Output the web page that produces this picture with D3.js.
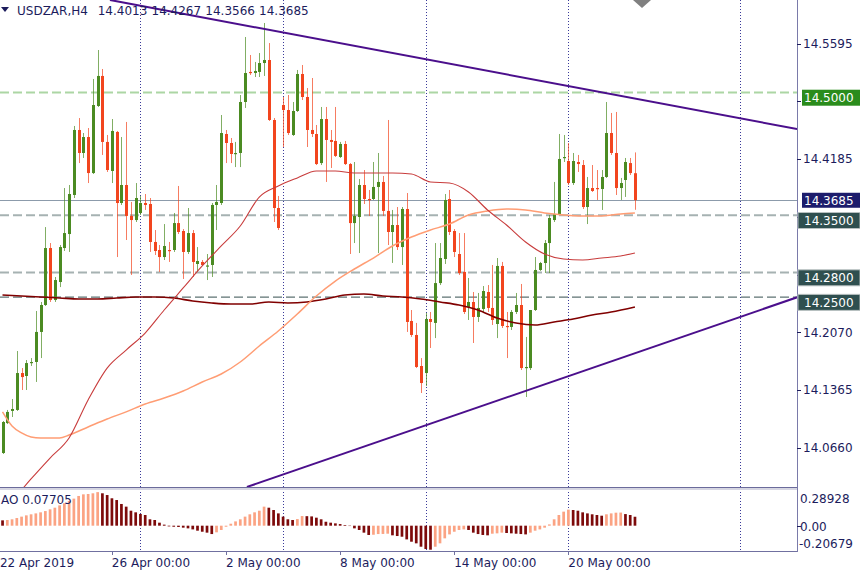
<!DOCTYPE html>
<html><head><meta charset="utf-8">
<script src="https://cdn.jsdelivr.net/npm/d3@7"></script>
<style>body{margin:0;background:#fff}svg{display:block;font-family:"DejaVu Sans",sans-serif;font-size:12px}</style>
</head><body><svg id="c" width="860" height="573"></svg>
<script>
// ---------- DATA ----------
const symbolName = "USDZAR,H4";
const titleValues = ["14.4013","14.4267","14.3566","14.3685"];
const opens = [14.0595,14.0961,14.1109,14.1121,14.1572,14.1536,14.1694,14.1707,14.2074,14.2403,
14.3099,14.2464,14.2684,14.3099,14.3270,14.3747,14.4541,14.4260,14.4455,14.4015,
14.4834,14.5201,14.4395,14.4040,14.4517,14.3649,14.3869,14.3491,14.3441,14.3527,
14.3649,14.3637,14.3173,14.3075,14.2989,14.3075,14.3075,14.3404,14.3307,14.3051,
14.3282,14.2904,14.2929,14.2880,14.2892,14.3625,14.3649,14.4492,14.4382,14.4248,
14.4260,14.4883,14.5250,14.5237,14.5250,14.5359,14.5396,14.4663,14.3588,14.4846,
14.4785,14.4480,14.4773,14.5225,14.4944,14.4541,14.4492,14.4137,14.4675,14.4419,
14.4407,14.4211,14.4370,14.4125,14.3404,14.3478,14.3869,14.3698,14.3698,14.3845,
14.3906,14.3552,14.3295,14.3380,14.3111,14.3576,14.2208,14.2037,14.1658,14.1572,
14.2232,14.2184,14.2671,14.2965,14.3698,14.3307,14.3026,14.2807,14.2379,14.2440,
14.2257,14.2355,14.2562,14.2367,14.2171,14.2880,14.2147,14.2135,14.2318,14.2403,
14.1633,14.1633,14.2342,14.2831,14.2916,14.3160,14.3441,14.3515,14.4199,14.4162,
14.3893,14.4150,14.4113,14.3600,14.3832,14.3832,14.3820,14.3967,14.4504,14.4260,
14.3832,14.3930,14.4137,14.4013];
const highs = [14.0986,14.1121,14.1255,14.1841,14.1633,14.1731,14.1755,14.2330,14.2440,14.3355,
14.3160,14.2745,14.3136,14.3832,14.3869,14.4590,14.4687,14.4504,14.4565,14.5164,
14.5518,14.5286,14.4480,14.4675,14.4529,14.4455,14.4639,14.3662,14.3893,14.3735,
14.3759,14.3710,14.3319,14.3136,14.3392,14.3173,14.3527,14.3857,14.3331,14.3588,
14.3319,14.3111,14.2953,14.3026,14.3649,14.3869,14.4724,14.4541,14.4443,14.4395,
14.4968,14.5677,14.5457,14.5372,14.5481,14.5848,14.5603,14.4687,14.3735,14.4944,
14.4968,14.4883,14.5274,14.5335,14.5054,14.5176,14.4602,14.4822,14.4822,14.4541,
14.4822,14.4395,14.4407,14.4137,14.4150,14.3942,14.4052,14.3808,14.4150,14.4260,
14.3979,14.4663,14.3564,14.3600,14.3600,14.3771,14.2342,14.2184,14.1755,14.2306,
14.2318,14.3160,14.3160,14.3759,14.3808,14.3331,14.3282,14.3282,14.2733,14.2562,
14.2550,14.2635,14.2647,14.2892,14.2977,14.2929,14.2318,14.2342,14.2550,14.2660,
14.2013,14.2342,14.2989,14.2929,14.3197,14.3503,14.3906,14.4492,14.4480,14.4382,
14.4260,14.4236,14.4174,14.3967,14.4113,14.4052,14.4052,14.4883,14.4749,14.4761,
14.3955,14.4199,14.4199,14.4267];
const lows = [14.0583,14.0949,14.1035,14.1109,14.1365,14.1365,14.1658,14.1463,14.1755,14.2391,
14.2440,14.2440,14.2622,14.3063,14.3051,14.3710,14.4137,14.4199,14.3893,14.4003,
14.4822,14.4236,14.4028,14.3893,14.2989,14.3625,14.3197,14.2770,14.3417,14.3503,
14.3564,14.3051,14.3014,14.2807,14.2953,14.2929,14.3051,14.3270,14.2721,14.3026,
14.2745,14.2807,14.2880,14.2708,14.2745,14.3319,14.3625,14.4137,14.4137,14.4088,
14.4088,14.4810,14.5213,14.5188,14.5188,14.5201,14.4651,14.3417,14.3319,14.4333,
14.4480,14.4468,14.4761,14.4907,14.4333,14.4455,14.4113,14.4113,14.3906,14.4077,
14.4211,14.4199,14.4113,14.3026,14.3160,14.3038,14.3637,14.3491,14.3686,14.3038,
14.3491,14.3136,14.2917,14.3075,14.2892,14.2074,14.2013,14.1633,14.1328,14.1414,
14.1878,14.1999,14.2647,14.2904,14.3258,14.2989,14.2770,14.2293,14.2220,14.1939,
14.2196,14.2306,14.2318,14.2159,14.1999,14.2122,14.1755,14.2098,14.2293,14.1609,
14.1279,14.1609,14.2330,14.2819,14.2794,14.2794,14.3417,14.3503,14.4150,14.3869,
14.3869,14.4028,14.3576,14.3392,14.3784,14.3686,14.3564,14.3955,14.4236,14.3747,
14.3686,14.3723,14.3991,14.3566];
const closes = [14.0974,14.1097,14.1133,14.1572,14.1523,14.1694,14.1707,14.2074,14.2403,14.3099,
14.2464,14.2708,14.3111,14.3282,14.3759,14.4541,14.4260,14.4455,14.4015,14.4846,
14.5201,14.4395,14.4052,14.4529,14.3649,14.3869,14.3491,14.3441,14.3710,14.3649,
14.3625,14.3173,14.3063,14.2989,14.3124,14.3063,14.3404,14.3295,14.3051,14.3282,
14.2929,14.2941,14.2892,14.2886,14.3625,14.3662,14.4504,14.4382,14.4248,14.4260,
14.4883,14.5237,14.5237,14.5262,14.5359,14.5396,14.4663,14.3588,14.3344,14.4785,
14.4504,14.4773,14.5225,14.4944,14.4541,14.4492,14.4125,14.4675,14.4419,14.4395,
14.4224,14.4370,14.4125,14.3404,14.3491,14.3869,14.3698,14.3686,14.3845,14.3906,
14.3552,14.3295,14.3380,14.3111,14.3576,14.2196,14.2037,14.1646,14.1450,14.2232,
14.2196,14.2671,14.2977,14.3686,14.3295,14.3051,14.2794,14.2318,14.2440,14.2257,
14.2367,14.2574,14.2367,14.2220,14.2880,14.2147,14.2135,14.2318,14.2403,14.1633,
14.1646,14.2342,14.2831,14.2916,14.3160,14.3466,14.3515,14.4187,14.4211,14.3893,
14.4162,14.4125,14.3600,14.3832,14.3796,14.3820,14.3967,14.4504,14.4260,14.3832,
14.3893,14.4150,14.4015,14.3685];
const aoValues = [0.046,0.049,0.055,0.066,0.078,0.089,0.098,0.106,0.115,0.126,
0.141,0.155,0.175,0.193,0.213,0.233,0.256,0.270,0.273,0.279,
0.289,0.279,0.264,0.236,0.221,0.187,0.164,0.129,0.115,0.101,
0.092,0.055,0.049,0.026,0.009,-0.006,-0.009,-0.011,-0.017,-0.023,
-0.032,-0.043,-0.052,-0.060,-0.072,-0.057,-0.037,-0.009,0.017,0.037,
0.055,0.078,0.098,0.115,0.129,0.164,0.155,0.135,0.106,0.078,
0.055,0.049,0.057,0.083,0.082,0.080,0.069,0.055,0.034,0.026,
0.020,0.014,0.006,-0.003,-0.023,-0.037,-0.060,-0.080,-0.078,-0.072,
-0.071,-0.069,-0.083,-0.089,-0.095,-0.118,-0.138,-0.152,-0.181,-0.201,
-0.2068,-0.181,-0.152,-0.109,-0.075,-0.052,-0.037,-0.032,-0.037,-0.060,
-0.072,-0.080,-0.083,-0.069,-0.066,-0.060,-0.063,-0.066,-0.069,-0.072,
-0.075,-0.060,-0.043,-0.032,-0.017,0.011,0.055,0.092,0.121,0.138,
0.135,0.129,0.115,0.106,0.098,0.092,0.086,0.098,0.106,0.112,
0.113,0.100,0.092,0.07705];
// moving averages (read at sampled bars)
const maRedIdx = [4,6,10,14,18,22,26,30,34,38,42,46,50,54,58,62,66,70,74,78,82,86,90,94,98,102,106,110,114,118,122,126,130,133];
const maRedVal = [14.0143,14.0278,14.0534,14.0779,14.1243,14.1633,14.1853,14.2061,14.2342,14.2611,14.2880,14.3124,14.3368,14.3722,14.3857,14.3955,14.4040,14.4040,14.4015,14.4015,14.4015,14.4003,14.3906,14.3893,14.3784,14.3564,14.3380,14.3173,14.3026,14.2965,14.2953,14.2977,14.3002,14.3038];
const maSalmonIdx = [0,2,4,6,8,12,14,18,22,26,30,34,38,42,46,50,54,58,62,66,70,74,78,82,86,90,94,98,102,106,110,114,118,122,126,130,133];
const maSalmonVal = [14.1097,14.0925,14.0840,14.0791,14.0779,14.0779,14.0815,14.0913,14.1011,14.1097,14.1194,14.1267,14.1353,14.1463,14.1560,14.1707,14.1902,14.2086,14.2293,14.2513,14.2696,14.2843,14.2977,14.3124,14.3234,14.3319,14.3392,14.3503,14.3552,14.3576,14.3564,14.3527,14.3503,14.3491,14.3491,14.3515,14.3527];
const maMaroonIdx = [0,4,8,12,16,20,24,28,32,36,40,44,48,52,56,60,64,68,72,76,80,84,88,92,96,100,104,108,112,116,120,124,128,133];
const maMaroonVal = [14.2525,14.2513,14.2501,14.2489,14.2476,14.2476,14.2489,14.2501,14.2501,14.2489,14.2452,14.2428,14.2415,14.2415,14.2440,14.2428,14.2440,14.2476,14.2525,14.2537,14.2513,14.2501,14.2476,14.2440,14.2403,14.2342,14.2244,14.2183,14.2159,14.2196,14.2232,14.2281,14.2318,14.2379];
const trendUpper = [[22.6,14.6129],[167.1,14.4553]];
const trendLower = [[51.4,14.0180],[167.1,14.2497]];
const priceTicks = [14.5595,14.4890,14.4185,14.3480,14.2775,14.2070,14.1365,14.0660];
const levelPrices = [14.5000,14.3500,14.2800,14.2500];
const levelLabels = ["14.5000","14.3500","14.2800","14.2500"];
const currentPrice = 14.3685;
const aoTicks = [0.28928,0.00,-0.20679];
const aoTickLabels = ["0.28928","0.00","-0.20679"];
const aoTitle = "AO 0.07705";
const gridIdx = [29,59,89,119,155];
const dateIdx = [-0.55,23,47,71,95,119];
const dateLabels = ["22 Apr 2019","26 Apr 00:00","2 May 00:00","8 May 00:00","14 May 00:00","20 May 00:00"];

// ---------- SCALES ----------
const svg = d3.select("#c");
const x = d3.scaleLinear().domain([0,133]).range([2.5, 2.5+4.755*133]);
const y = d3.scaleLinear().domain([14.0660,14.5595]).range([447.7,43.7]);
const ya = d3.scaleLinear().domain([-0.20679,0.28928]).range([549.7,492.1]);
const PR = 797, PB = 487, AB = 551;
const navy = "#1c1c5c";
const UP = "#4b8b22", DN = "#f2451e";

const defs = svg.append("defs");
defs.append("clipPath").attr("id","cm").append("rect").attr("x",0).attr("y",0).attr("width",PR).attr("height",PB);

// vertical dotted grid
svg.append("g").selectAll("line").data(gridIdx).join("line")
  .attr("x1",d=>Math.round(x(d))+0.5).attr("x2",d=>Math.round(x(d))+0.5)
  .attr("y1",0).attr("y2",AB)
  .attr("stroke","#3a3a9a").attr("stroke-width",1).attr("stroke-dasharray","1,2");

// level lines
const levelStyle = [
  {c:"#acd6a4",w:2,dash:"9,4"},
  {c:"#a6b2b2",w:2,dash:"9,4"},
  {c:"#a6b2b2",w:2,dash:"9,4"},
  {c:"#5e7373",w:1.3,dash:"9,4"}];
const gl = svg.append("g");
levelPrices.forEach((p,k)=>{
  gl.append("line").attr("x1",0).attr("x2",PR).attr("y1",y(p)).attr("y2",y(p))
    .attr("stroke",levelStyle[k].c).attr("stroke-width",levelStyle[k].w).attr("stroke-dasharray",levelStyle[k].dash);
});
gl.append("line").attr("x1",0).attr("x2",PR).attr("y1",Math.round(y(currentPrice))+0.5).attr("y2",Math.round(y(currentPrice))+0.5)
  .attr("stroke","#8c9bab").attr("stroke-width",1);

// candles
const bars = d3.range(opens.length).map(i=>({i,o:opens[i],h:highs[i],l:lows[i],c:closes[i]}));
const gc = svg.append("g").attr("clip-path","url(#cm)");
gc.selectAll("line.w").data(bars).join("line").attr("class","w")
  .attr("x1",d=>Math.round(x(d.i))+0.5).attr("x2",d=>Math.round(x(d.i))+0.5)
  .attr("y1",d=>y(d.h)).attr("y2",d=>y(d.l))
  .attr("stroke",d=>d.c>=d.o?UP:DN).attr("stroke-opacity",0.7).attr("stroke-width",1);
gc.selectAll("rect.b").data(bars).join("rect").attr("class","b")
  .attr("x",d=>Math.round(x(d.i))-1).attr("width",3)
  .attr("y",d=>y(Math.max(d.o,d.c)))
  .attr("height",d=>Math.max(1.2,Math.abs(y(d.o)-y(d.c))))
  .attr("fill",d=>d.c>=d.o?UP:DN);

// moving averages
const maLine = d3.line().x(d=>x(d[0])).y(d=>y(d[1])).curve(d3.curveMonotoneX);
const gm = svg.append("g").attr("clip-path","url(#cm)").attr("fill","none");
gm.append("path").attr("d",maLine(maMaroonIdx.map((v,k)=>[v,maMaroonVal[k]]))).attr("stroke","#800000").attr("stroke-width",1.6);
gm.append("path").attr("d",maLine(maSalmonIdx.map((v,k)=>[v,maSalmonVal[k]]))).attr("stroke","#ff9d74").attr("stroke-width",1.5);
gm.append("path").attr("d",maLine(maRedIdx.map((v,k)=>[v,maRedVal[k]]))).attr("stroke","#c83c3c").attr("stroke-width",1.1);

// trend lines
const tl = d3.line().x(d=>x(d[0])).y(d=>y(d[1]));
gm.append("path").attr("d",tl(trendUpper)).attr("stroke","#4b0f8c").attr("stroke-width",2);
gm.append("path").attr("d",tl(trendLower)).attr("stroke","#4b0f8c").attr("stroke-width",2);

// AO histogram
svg.append("g").selectAll("rect").data(aoValues).join("rect")
  .attr("x",(d,i)=>x(i)-1.3).attr("width",2.7)
  .attr("y",d=>Math.min(ya(d),ya(0)))
  .attr("height",d=>Math.abs(ya(d)-ya(0)))
  .attr("fill",(d,i)=>(i>0 && d>aoValues[i-1])?"#fba383":"#7d0a0a");

// frame lines
svg.append("line").attr("x1",0).attr("x2",PR+0.5).attr("y1",PB+0.5).attr("y2",PB+0.5).attr("stroke","#6b6b9b");
svg.append("rect").attr("x",0).attr("y",PB+1).attr("width",PR).attr("height",2).attr("fill","#d6d6e2");
svg.append("line").attr("x1",0).attr("x2",PR+0.5).attr("y1",AB+0.5).attr("y2",AB+0.5).attr("stroke","#7070a0");
svg.append("line").attr("x1",PR+0.5).attr("x2",PR+0.5).attr("y1",0).attr("y2",AB+1).attr("stroke","#7a7aaa");

// right price axis (labels hidden behind level boxes are not drawn)
const ga = svg.append("g");
const covered = p => levelPrices.some(l=>Math.abs(y(l)-y(p))<12);
ga.selectAll("line").data(priceTicks).join("line")
  .attr("x1",PR).attr("x2",PR+4).attr("y1",d=>Math.round(y(d))+0.5).attr("y2",d=>Math.round(y(d))+0.5).attr("stroke",navy);
ga.selectAll("text").data(priceTicks.filter(p=>!covered(p))).join("text")
  .attr("x",803).attr("y",d=>y(d)).attr("dy","0.36em").attr("fill",navy)
  .text(d=>d3.format(".4f")(d));

// level labels
levelPrices.forEach((p,k)=>{
  const top = y(p)-2.7;
  const bx = k===0?802:798;
  ga.append("rect").attr("x",bx).attr("y",top).attr("width",860-bx).attr("height",16)
    .attr("fill",k===0?"#2a8c1c":"#2f4f4f").attr("stroke",k===0?"none":"#b8c0c0").attr("stroke-width",1);
  ga.append("text").attr("x",804).attr("y",top+12.5).attr("fill","#fff").text(levelLabels[k]);
});
{
  const top = y(currentPrice)-7.3;
  ga.append("rect").attr("x",802).attr("y",top).attr("width",58).attr("height",15).attr("fill","#1c1c6c");
  ga.append("text").attr("x",804).attr("y",top+12).attr("fill","#fff").text(d3.format(".4f")(currentPrice));
}

// AO axis labels
const aoDy = [11,5,-1.7];
svg.append("g").selectAll("text").data(aoTicks).join("text")
  .attr("x",(d,k)=>k===2?799:800).attr("y",(d,k)=>ya(d)+aoDy[k]).attr("fill",navy)
  .text((d,k)=>aoTickLabels[k]);
svg.append("line").attr("x1",PR).attr("x2",PR+4).attr("y1",Math.round(ya(0))+0.5).attr("y2",Math.round(ya(0))+0.5).attr("stroke",navy);
svg.append("text").attr("x",1).attr("y",504).attr("fill",navy).text(aoTitle);

// date axis
const gd = svg.append("g");
gd.selectAll("line").data(dateIdx.slice(1)).join("line")
  .attr("x1",d=>Math.round(x(d))+0.5).attr("x2",d=>Math.round(x(d))+0.5).attr("y1",AB).attr("y2",AB+4).attr("stroke","#7070a0");
gd.selectAll("text").data(dateIdx).join("text")
  .attr("x",d=>x(d)).attr("y",567).attr("fill",navy)
  .text((d,k)=>dateLabels[k]);

// top-right marker
svg.append("polygon").attr("points","633,0 651,0 642,8").attr("fill","#808080");

// title
svg.append("polygon").attr("points","1,7 9,7 5,12").attr("fill",navy);
const gt = svg.append("g").attr("fill",navy);
gt.append("text").attr("x",17).attr("y",15).text(symbolName);
gt.selectAll("text.v").data(titleValues).join("text").attr("class","v")
  .attr("x",(d,k)=>97.7+k*53.8).attr("y",15).text(d=>d);
</script>
</body></html>
